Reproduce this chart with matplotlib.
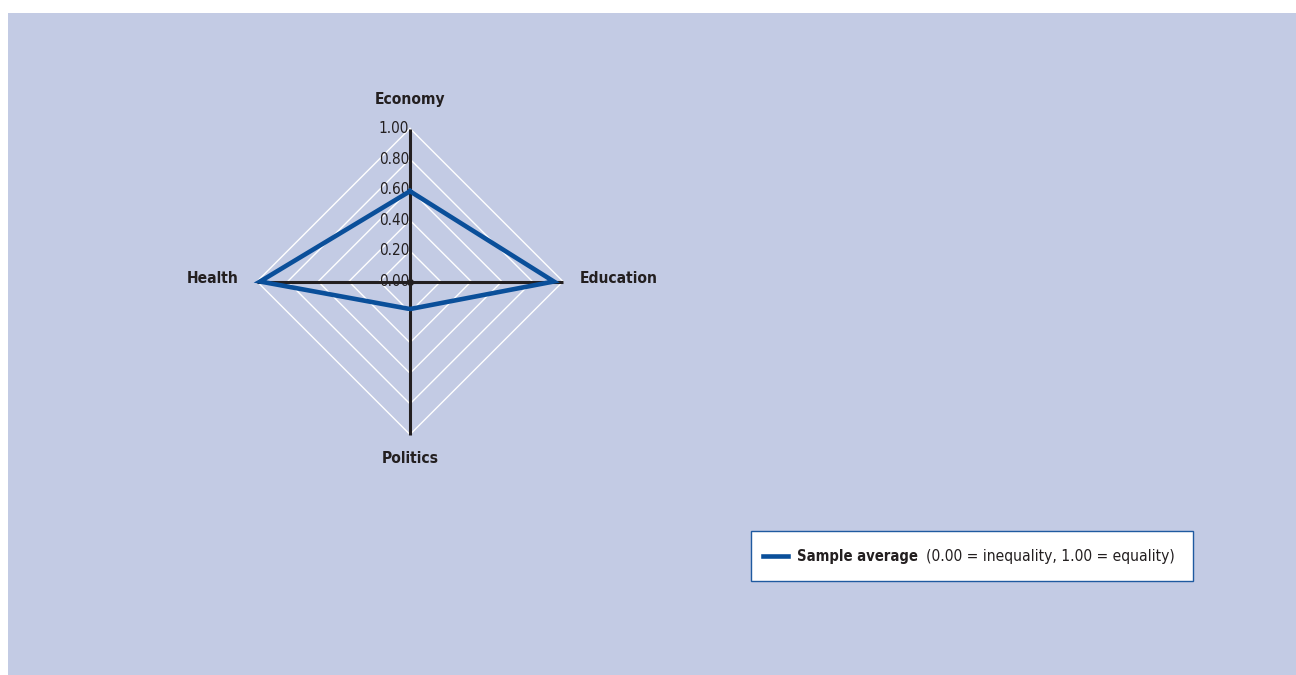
import matplotlib
matplotlib.use("Agg")
import matplotlib.pyplot as plt
from matplotlib import font_manager
from matplotlib.patches import Rectangle
from matplotlib.lines import Line2D
import numpy as np

# ---- data ----
categories = ["Economy", "Education", "Politics", "Health"]
values = [0.59, 0.94, 0.18, 0.98]
tick_values = [0.0, 0.2, 0.4, 0.6, 0.8, 1.0]
tick_labels = ["0.00", "0.20", "0.40", "0.60", "0.80", "1.00"]
series_name = "Sample average"
legend_note = "(0.00 = inequality, 1.00 = equality)"

names = {f.name for f in font_manager.fontManager.ttflist}
if "Liberation Sans Narrow" in names:
    FONT = dict(family="Liberation Sans Narrow")
else:
    FONT = dict(family="DejaVu Sans", stretch="condensed")

BG = "#C3CBE4"
BLUE = "#0A4F9A"
DARK = "#231F20"

W, H = 1296, 675
fig = plt.figure(figsize=(W / 100, H / 100), dpi=100)
fig.patch.set_facecolor("white")
# panel background
fig.add_artist(Rectangle((8 / W, 0), 1 - 8 / W, (H - 13) / H, transform=fig.transFigure,
                         facecolor=BG, edgecolor="none", zorder=0))

# axes: center at pixel (410, 281.5), radius 153 px
cx, cy, R = 410, 281.5, 153.0
half = 200
ax = fig.add_axes([(cx - half) / W, (H - cy - half) / H, 2 * half / W, 2 * half / H])
ax.set_xlim(-half / R, half / R)
ax.set_ylim(-half / R, half / R)
ax.axis("off")
ax.patch.set_alpha(0)

angles = {"Economy": np.pi / 2, "Education": 0.0, "Politics": -np.pi / 2, "Health": np.pi}
dirs = np.array([[np.cos(angles[c]), np.sin(angles[c])] for c in categories])

# grid diamonds
for t in tick_values[1:]:
    pts = np.vstack([dirs * t, dirs[:1] * t])
    ax.plot(pts[:, 0], pts[:, 1], color="white", lw=1.0, zorder=1)

# axis spokes
for d in dirs:
    ax.plot([0, d[0]], [0, d[1]], color=DARK, lw=2.2, zorder=2, solid_capstyle="butt")

# tick labels along Economy axis
for t, lab in zip(tick_values, tick_labels):
    ax.text(-0.005, t, lab, ha="right", va="center", fontsize=11, color=DARK, zorder=3, **FONT)

# series
vals = np.array(values)
pts = dirs * vals[:, None]
pts = np.vstack([pts, pts[:1]])
ax.plot(pts[:, 0], pts[:, 1], color=BLUE, lw=3.3, zorder=4, solid_joinstyle="miter")
ax.plot([0], [0], "o", color=DARK, ms=4, zorder=5)

# category labels
lab_pos = {"Economy": (0, 1.19, "center", "center"),
           "Education": (1.11, 0.02, "left", "center"),
           "Politics": (0, -1.16, "center", "center"),
           "Health": (-1.12, 0.02, "right", "center")}
for c in categories:
    x, y, ha, va = lab_pos[c]
    ax.text(x, y, c, ha=ha, va=va, fontsize=11.2, fontweight="bold", color=DARK, **FONT)

# legend box
lx0, ly0, lx1, ly1 = 751, 531, 1193, 581
fig.add_artist(Rectangle((lx0 / W, (H - ly1) / H), (lx1 - lx0) / W, (ly1 - ly0) / H,
                         transform=fig.transFigure, facecolor="white", edgecolor="#1F5AA0",
                         lw=1.0, zorder=5))
fig.add_artist(Line2D([763 / W, 788 / W], [(H - 556) / H] * 2, transform=fig.transFigure,
                      color=BLUE, lw=3.3, zorder=6))
t1 = fig.text(797 / W, (H - 556) / H, series_name, ha="left", va="center", fontsize=10.6,
              fontweight="bold", color=DARK, zorder=6, **FONT)
fig.canvas.draw()
bb = t1.get_window_extent(renderer=fig.canvas.get_renderer())
fig.text((bb.x1 + 8) / W, (H - 556) / H, legend_note, ha="left", va="center", fontsize=11.2,
         color=DARK, zorder=6, **FONT)

fig.savefig("out.png", dpi=100, facecolor=fig.get_facecolor())
